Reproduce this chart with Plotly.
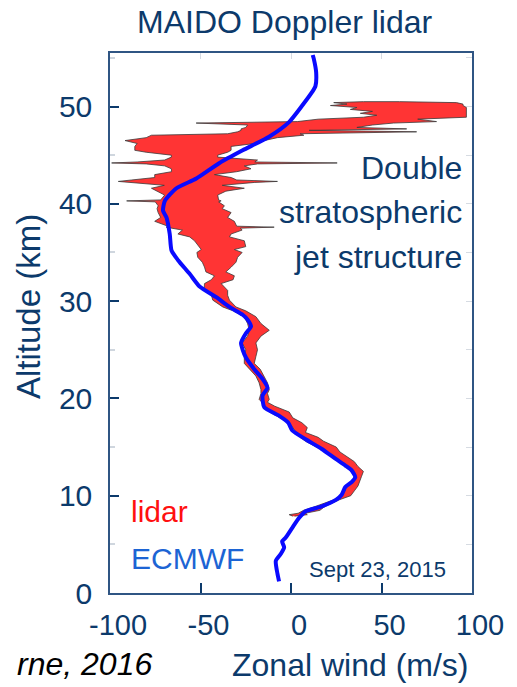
import plotly.graph_objects as go

# ---------------- data ----------------
# ECMWF zonal wind profile (altitude km, wind m/s)
ecmwf_alt = [1.2, 2.0, 3.3, 4.0, 4.7, 5.3, 5.7, 6.7, 7.7, 8.4, 8.9, 9.6, 10.1, 10.9, 11.4,
             11.9, 12.6, 13.1, 13.8, 14.8, 15.8, 16.7, 17.5, 18.2, 19.1, 20.3, 21.1, 22.0,
             23.0, 24.2, 25.0, 25.7, 26.7, 27.4, 28.1, 28.6, 29.4, 30.4, 31.5, 32.8, 34.2,
             35.2, 36.9, 38.6, 39.3, 40.3, 41.6, 42.6, 44.2, 45.5, 46.9, 48.4, 50.1, 51.5,
             52.1, 53.5, 54.9, 55.3]
ecmwf_u = [-6.6, -7.5, -8.4, -5.7, -3.8, -4.9, -2.9, 0.7, 4.4, 8.1, 17, 25, 28, 30, 33.5,
           35.5, 33.5, 30, 24.5, 17, 8.1, 0.7, -1.5, -6.5, -14.8, -15.7, -13, -15.7,
           -20.3, -24.9, -26.7, -27.6, -24.9, -22.1, -24, -26.7, -34, -41.3, -50.5, -56, -62.4,
           -66, -67, -68.8, -70.7, -69.7, -63.3, -52.3, -39.5, -26.7, -12.1, -1.1, 6.2, 11.7,
           13.5, 13.9, 12.6, 12.0]

# Lidar profile: altitude, lower and upper wind bound (m/s)
lidar_alt = [7.9, 8.05, 8.2, 8.5, 8.8, 9.0, 9.3, 9.6, 10.0, 10.5, 11.0, 11.5, 12.0, 12.5,
             13.0, 13.5, 14.0, 14.5, 15.0, 15.6, 16.0, 16.5, 17.0, 17.5, 18.0, 18.6, 19.2,
             19.6, 19.9, 20.5, 20.9, 21.6, 22.3, 23.0, 23.6, 24.3, 25.0, 25.7, 26.4, 27.0,
             27.7, 28.4, 29.0, 29.4, 30.1, 30.6, 31.1, 31.8, 32.2, 32.6, 33.0, 33.5, 34.0,
             34.5, 35.0, 35.3, 35.6, 36.2, 36.6, 36.9, 37.3, 37.5, 37.6, 37.7, 38.2, 38.6,
             39.1, 39.5, 39.8, 40.2, 40.3, 40.4, 40.9, 41.3, 41.6, 41.9, 42.2, 42.3, 42.45,
             42.7, 43.0, 43.3, 43.6, 43.9, 44.1, 44.2, 44.3, 44.5, 44.8, 45.0, 45.3, 45.5,
             45.9, 46.2, 46.5, 46.8, 47.05, 47.2, 47.4, 47.55, 47.7, 47.85, 48.1, 48.3,
             48.45, 48.7, 48.9, 49.1, 49.3, 49.5, 49.7, 49.9, 50.1, 50.25, 50.4, 50.5]
lidar_lo = [1, -1, 4, 7, 12, 15, 20, 24, 27, 30, 30, 34, 35, 33,
            31, 28, 24, 20, 14, 8, 5, 3, 1, -1, -6, -12, -15,
            -16, -17.6, -16.6, -16.6, -17.6, -19.4, -23, -25.8, -25.8, -25, -27, -24, -23,
            -24, -25.8, -32, -37.7, -43.2, -44, -48, -47.8, -44, -42.3, -47, -47.8, -49,
            -51.5, -52, -49.6, -51, -53.3, -56, -62.5, -60, -66, -69, -68, -75.3, -72,
            -73.4, -74, -73.4, -75, -90.8, -72, -69.8, -74, -77.1, -70, -90, -95.4, -88,
            -75.3, -75.3, -66, -66.1, -69.8, -80, -99.1, -85, -69.8, -66.1, -66.1, -80, -86.3,
            -86.3, -85, -91.7, -80, -77.1, -35, -29.5, -27.6, -27.6, -25, -24.0, -52.4,
            3.5, 15, 40, 47.4, 38.3, 45, 32.8, 36.4, 21.8, 30.9, 23.6, 40]
lidar_hi = [2, 9, 8, 16, 18, 20, 23, 27, 33, 35, 37, 38, 39, 40,
            37, 35, 31, 27, 25, 18, 15, 8, 9, 6, 1, -1, -9,
            -13, -12, -13, -12, -13, -14.8, -17, -20.3, -19.4, -18.5, -19.4, -16.6, -12,
            -16.6, -19.4, -25, -30.4, -34, -35, -35, -38.6, -32, -31.3, -36, -33, -30.4,
            -29.5, -27, -31.3, -25, -25.8, -34, -33.1, -27, -28, -9.3, -30, -31.3, -35,
            -33.1, -38, -36.8, -40, -38.6, -40, -40.5, -36, -25.8, -38, -20, -7.5, -30,
            -33, -42.3, -30, -22.1, -25.8, -18.5, 25.5, -20, -18.5, -40.5, -40.5, -35, -33.1,
            -33.1, -20, -14.8, -7.5, 7.1, 5, 69.4, 10, 63.9, 36.4, 45, 56.6,
            80.4, 70, 96.9, 96.9, 96.9, 96.9, 96.9, 96.9, 95.1, 95, 91.4, 60]

x_ticks = [-100, -50, 0, 50, 100]
y_ticks = [0, 10, 20, 30, 40, 50]

NAVY = "#0c3a6b"
FRAME = "#2f5583"
FONT = "Liberation Sans, Arial, sans-serif"

fig = go.Figure()

# lidar band as closed polygon
fig.add_trace(go.Scatter(
    x=lidar_lo + lidar_hi[::-1],
    y=lidar_alt + lidar_alt[::-1],
    mode="lines", fill="toself", fillcolor="#ff3434",
    line=dict(color="#3a3a3a", width=0.8),
    hoverinfo="skip", showlegend=False,
))

fig.add_trace(go.Scatter(
    x=ecmwf_u, y=ecmwf_alt, mode="lines",
    line=dict(color="#0a0aff", width=4, shape="spline", smoothing=0.6),
    showlegend=False,
))

# empty trace for the light-gray overlay axes (top/right ticks)
fig.add_trace(go.Scatter(x=[], y=[], xaxis="x2", yaxis="y2", showlegend=False))

fig.update_layout(
    width=517, height=687,
    margin=dict(l=110, r=45, t=53, b=94),
    paper_bgcolor="white", plot_bgcolor="white",
    font=dict(family=FONT, color=NAVY),
    showlegend=False,
    xaxis=dict(
        range=[-100, 100], tickvals=x_ticks, ticktext=[str(v) for v in x_ticks],
        ticks="inside", ticklen=10, tickwidth=2, tickcolor=NAVY,
        showline=True, linecolor=FRAME, linewidth=1.5, mirror=True,
        showgrid=False, zeroline=False,
        tickfont=dict(size=29, color=NAVY, family=FONT),
        ticklabelstandoff=5, ticklabelshift=8,
    ),
    yaxis=dict(
        range=[0, 55.5], tickvals=y_ticks, ticktext=[str(v) for v in y_ticks],
        ticks="inside", ticklen=9, tickwidth=2, tickcolor=NAVY,
        showline=True, linecolor=FRAME, linewidth=1.5, mirror=True,
        showgrid=False, zeroline=False,
        tickfont=dict(size=30, color=NAVY, family=FONT),
        ticklabelstandoff=10,
        minor=dict(ticks="inside", ticklen=5, tickcolor="#cfd6de", dtick=5, tick0=0),
    ),
    xaxis2=dict(
        overlaying="x", side="top", range=[-100, 100], tickvals=[-50, 0, 50],
        ticks="inside", ticklen=6, tickcolor="#d6dbe2", showticklabels=False,
        showline=False, showgrid=False, zeroline=False, anchor="y2",
    ),
    yaxis2=dict(
        overlaying="y", side="right", range=[0, 55.5], dtick=5, tick0=0,
        ticks="inside", ticklen=6, tickcolor="#d6dbe2", showticklabels=False,
        showline=False, showgrid=False, zeroline=False, anchor="x2",
    ),
)

def px_x(px):
    return (px - 110) / 362.0

def px_y(py):
    return (593 - py) / 540.0

annotations = [
    dict(text="MAIDO Doppler lidar", x=px_x(285), y=px_y(22), xanchor="center", yanchor="middle",
         font=dict(size=32, color=NAVY)),
    dict(text="Altitude (km)", x=px_x(28), y=px_y(307), xanchor="center", yanchor="middle",
         textangle=-90, font=dict(size=33, color=NAVY)),
    dict(text="Zonal wind (m/s)", x=px_x(350), y=px_y(665), xanchor="center", yanchor="middle",
         font=dict(size=32, color=NAVY)),
    dict(text="<i>rne, 2016</i>", x=px_x(154), y=px_y(664), xanchor="right", yanchor="middle",
         font=dict(size=32, color="black", family="Liberation Sans, Arial, sans-serif")),
    dict(text="Double", x=px_x(464), y=px_y(168), xanchor="right", yanchor="middle",
         font=dict(size=32, color=NAVY)),
    dict(text="stratospheric", x=px_x(464), y=px_y(212), xanchor="right", yanchor="middle",
         font=dict(size=32, color=NAVY)),
    dict(text="jet structure", x=px_x(464), y=px_y(257), xanchor="right", yanchor="middle",
         font=dict(size=32, color=NAVY)),
    dict(text="lidar", x=px_x(129), y=px_y(511), xanchor="left", yanchor="middle",
         font=dict(size=30, color="#ff1010")),
    dict(text="ECMWF", x=px_x(129), y=px_y(558), xanchor="left", yanchor="middle",
         font=dict(size=30, color="#1c64d4")),
    dict(text="Sept 23, 2015", x=px_x(307), y=px_y(569), xanchor="left", yanchor="middle",
         font=dict(size=22, color=NAVY)),
]
for a in annotations:
    a.update(xref="paper", yref="paper", showarrow=False)
fig.update_layout(annotations=annotations)

fig.write_html("out.html")
